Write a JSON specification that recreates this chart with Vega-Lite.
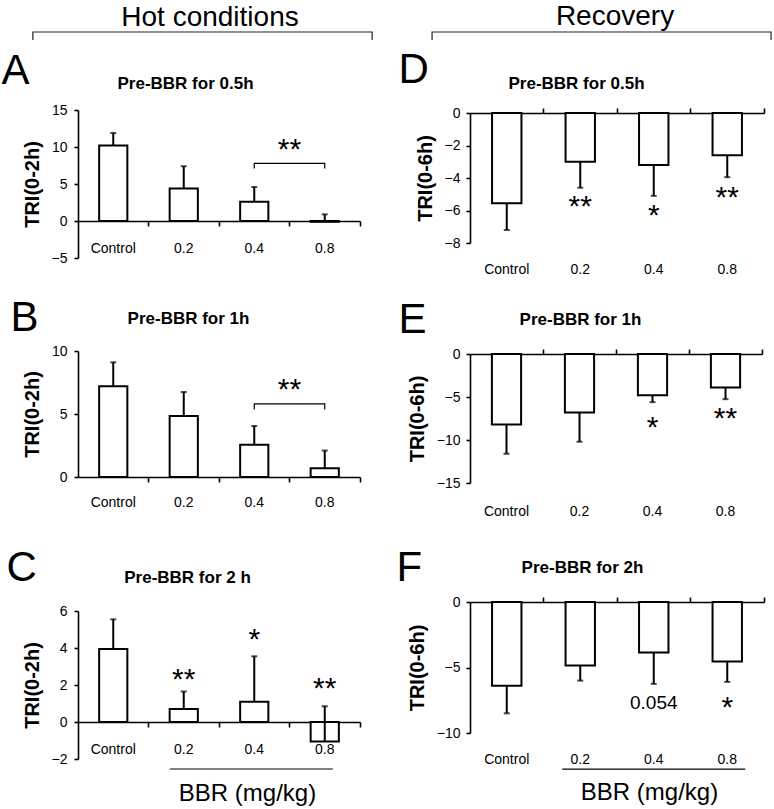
{
  "$schema": "https://vega.github.io/schema/vega-lite/v6.json",
  "padding": {"left": 1, "top": 2, "right": 4, "bottom": 4},
  "autosize": {"type": "pad"},
  "spacing": 21,
  "bounds": "full",
  "config": {
    "view": {"stroke": null},
    "font": "Liberation Sans",
    "axis": {"domainColor": "black", "tickColor": "black", "labelColor": "black", "titleColor": "black", "grid": false, "labelFontSize": 14, "domainWidth": 1.6, "tickWidth": 1.6, "labelFont": "Liberation Sans", "titleFont": "Liberation Sans"},
    "title": {"font": "Liberation Sans", "color": "black"}
  },
  "hconcat": [
    {
      "spacing": 0,
      "bounds": "flush",
      "vconcat": [
        {
          "width": 282, "height": 8,
          "title": {"text": "Hot conditions", "fontSize": 28, "fontWeight": "normal", "anchor": "middle", "dx": -9, "offset": -24, "baseline": "alphabetic"},
          "data": {"values": [{"x": -0.16, "y": 0, "o": 0}, {"x": -0.16, "y": 1, "o": 1}, {"x": 1.043, "y": 1, "o": 2}, {"x": 1.043, "y": 0, "o": 3}]},
          "mark": {"type": "line", "color": "#222", "strokeWidth": 1.2},
          "encoding": {
            "x": {"field": "x", "type": "quantitative", "scale": {"domain": [0, 1], "nice": false, "zero": false}, "axis": null},
            "y": {"field": "y", "type": "quantitative", "scale": {"domain": [0, 1], "nice": false}, "axis": null},
            "order": {"field": "o", "type": "quantitative"}
          }
        },
        {"width": 282, "height": 70, "data": {"values": []}, "mark": "point", "encoding": {}},
        {
          "width": 282, "height": 148,
          "data": {"values": [
            {"cat": "Control", "mean": 10.2, "err": 11.9},
            {"cat": "0.2", "mean": 4.4, "err": 7.4},
            {"cat": "0.4", "mean": 2.6, "err": 4.6},
            {"cat": "0.8", "mean": -0.1, "err": 0.9}
          ]},
          "encoding": {
            "y": {"field": "mean", "type": "quantitative", "scale": {"domain": [-5, 15], "nice": false, "zero": false},
                  "axis": {"values": [-5, 0, 5, 10, 15], "title": "TRI(0-2h)", "titleFontSize": 20, "titleFontWeight": "bold", "tickSize": 4, "labelPadding": 7, "titlePadding": 9}}
          },
          "layer": [
            {
              "mark": {"type": "bar", "fill": "white", "stroke": "black", "strokeWidth": 2, "width": {"band": 0.4}},
              "encoding": {
                "x": {"field": "cat", "type": "nominal", "sort": ["Control", "0.2", "0.4", "0.8"], "scale": {"paddingInner": 0, "paddingOuter": 0},
                      "axis": {"orient": "bottom", "offset": -37, "ticks": false, "domain": true, "labelAngle": 0, "labelPadding": 20, "title": null}}
              }
            },
            {
              "mark": {"type": "rule", "strokeWidth": 2, "color": "black"},
              "encoding": {
                "x": {"field": "cat", "type": "nominal", "sort": ["Control", "0.2", "0.4", "0.8"],
                      "axis": {"orient": "bottom", "offset": -37, "bandPosition": 1, "ticks": true, "tickSize": 5, "labels": false, "domain": false, "title": null}},
                "y2": {"field": "err"}
              }
            },
            {
              "mark": {"type": "tick", "orient": "horizontal", "size": 6, "thickness": 2, "color": "black"},
              "encoding": {
                "x": {"field": "cat", "type": "nominal", "sort": ["Control", "0.2", "0.4", "0.8"],
                      "axis": {"orient": "top", "domain": false, "ticks": false, "labels": false, "title": "Pre-BBR for 0.5h", "titleX": 107, "titleY": -22, "titleAlign": "center", "titleBaseline": "alphabetic", "titleAngle": 0, "titleFontSize": 17, "titleFontWeight": "bold"}},
                "y": {"field": "err", "type": "quantitative"}
              }
            },
            {
              "data": {"values": [{"cat": "0.8", "label": "**", "pos": 10.3}]},
              "mark": {"type": "text", "fontSize": 30, "baseline": "middle", "dy": 5, "align": "center", "color": "black"},
              "encoding": {
                "x": {"field": "cat", "type": "nominal", "sort": ["Control", "0.2", "0.4", "0.8"], "bandPosition": 0,
                      "axis": {"orient": "top", "domain": false, "ticks": false, "labels": false, "title": "A", "titleX": -77, "titleY": -27, "titleAlign": "left", "titleBaseline": "alphabetic", "titleAngle": 0, "titleFontSize": 42, "titleFontWeight": "normal"}},
                "y": {"field": "pos", "type": "quantitative"},
                "text": {"field": "label"}
              }
            },
            {
              "data": {"values": [{"cat": "0.4", "v": 7.1, "o": 0}, {"cat": "0.4", "v": 7.8, "o": 1}, {"cat": "0.8", "v": 7.8, "o": 2}, {"cat": "0.8", "v": 7.1, "o": 3}]},
              "mark": {"type": "line", "color": "black", "strokeWidth": 1.2},
              "encoding": {
                "x": {"field": "cat", "type": "nominal", "sort": ["Control", "0.2", "0.4", "0.8"], "axis": null},
                "y": {"field": "v", "type": "quantitative"},
                "order": {"field": "o", "type": "quantitative"}
              }
            }
          ],
          "resolve": {"axis": {"x": "independent"}}
        },
        {"width": 282, "height": 93, "data": {"values": []}, "mark": "point", "encoding": {}},
        {
          "width": 282, "height": 126,
          "data": {"values": [
            {"cat": "Control", "mean": 7.2, "err": 9.1},
            {"cat": "0.2", "mean": 4.85, "err": 6.75},
            {"cat": "0.4", "mean": 2.55, "err": 4.05},
            {"cat": "0.8", "mean": 0.7, "err": 2.1}
          ]},
          "encoding": {
            "y": {"field": "mean", "type": "quantitative", "scale": {"domain": [0, 10], "nice": false, "zero": false},
                  "axis": {"values": [0, 5, 10], "title": "TRI(0-2h)", "titleFontSize": 20, "titleFontWeight": "bold", "tickSize": 4, "labelPadding": 7, "titlePadding": 9}}
          },
          "layer": [
            {
              "mark": {"type": "bar", "fill": "white", "stroke": "black", "strokeWidth": 2, "width": {"band": 0.4}},
              "encoding": {
                "x": {"field": "cat", "type": "nominal", "sort": ["Control", "0.2", "0.4", "0.8"], "scale": {"paddingInner": 0, "paddingOuter": 0},
                      "axis": {"orient": "bottom", "offset": 0, "ticks": false, "domain": true, "labelAngle": 0, "labelPadding": 18, "title": null}}
              }
            },
            {
              "mark": {"type": "rule", "strokeWidth": 2, "color": "black"},
              "encoding": {
                "x": {"field": "cat", "type": "nominal", "sort": ["Control", "0.2", "0.4", "0.8"],
                      "axis": {"orient": "bottom", "offset": 0, "bandPosition": 1, "ticks": true, "tickSize": 5, "labels": false, "domain": false, "title": null}},
                "y2": {"field": "err"}
              }
            },
            {
              "mark": {"type": "tick", "orient": "horizontal", "size": 6, "thickness": 2, "color": "black"},
              "encoding": {
                "x": {"field": "cat", "type": "nominal", "sort": ["Control", "0.2", "0.4", "0.8"],
                      "axis": {"orient": "top", "domain": false, "ticks": false, "labels": false, "title": "Pre-BBR for 1h", "titleX": 110, "titleY": -28, "titleAlign": "center", "titleBaseline": "alphabetic", "titleAngle": 0, "titleFontSize": 17, "titleFontWeight": "bold"}},
                "y": {"field": "err", "type": "quantitative"}
              }
            },
            {
              "data": {"values": [{"cat": "0.8", "label": "**", "pos": 7.3}]},
              "mark": {"type": "text", "fontSize": 30, "baseline": "middle", "dy": 5, "align": "center", "color": "black"},
              "encoding": {
                "x": {"field": "cat", "type": "nominal", "sort": ["Control", "0.2", "0.4", "0.8"], "bandPosition": 0,
                      "axis": {"orient": "top", "domain": false, "ticks": false, "labels": false, "title": "B", "titleX": -68, "titleY": -21, "titleAlign": "left", "titleBaseline": "alphabetic", "titleAngle": 0, "titleFontSize": 42, "titleFontWeight": "normal"}},
                "y": {"field": "pos", "type": "quantitative"},
                "text": {"field": "label"}
              }
            },
            {
              "data": {"values": [{"cat": "0.4", "v": 5.35, "o": 0}, {"cat": "0.4", "v": 5.8, "o": 1}, {"cat": "0.8", "v": 5.8, "o": 2}, {"cat": "0.8", "v": 5.35, "o": 3}]},
              "mark": {"type": "line", "color": "black", "strokeWidth": 1.2},
              "encoding": {
                "x": {"field": "cat", "type": "nominal", "sort": ["Control", "0.2", "0.4", "0.8"], "axis": null},
                "y": {"field": "v", "type": "quantitative"},
                "order": {"field": "o", "type": "quantitative"}
              }
            }
          ],
          "resolve": {"axis": {"x": "independent"}}
        },
        {"width": 282, "height": 134, "data": {"values": []}, "mark": "point", "encoding": {}},
        {
          "width": 282, "height": 148,
          "data": {"values": [
            {"cat": "Control", "mean": 3.95, "err": 5.55},
            {"cat": "0.2", "mean": 0.7, "err": 1.65},
            {"cat": "0.4", "mean": 1.1, "err": 3.55},
            {"cat": "0.8", "mean": -1.05, "err": 0.85}
          ]},
          "encoding": {
            "y": {"field": "mean", "type": "quantitative", "scale": {"domain": [-2, 6], "nice": false, "zero": false},
                  "axis": {"values": [-2, 0, 2, 4, 6], "title": "TRI(0-2h)", "titleFontSize": 20, "titleFontWeight": "bold", "tickSize": 4, "labelPadding": 7, "titlePadding": 9}}
          },
          "layer": [
            {
              "mark": {"type": "bar", "fill": "white", "stroke": "black", "strokeWidth": 2, "width": {"band": 0.4}},
              "encoding": {
                "x": {"field": "cat", "type": "nominal", "scale": {"domain": ["Control", "0.2", "0.4", "0.8"], "paddingInner": 0, "paddingOuter": 0},
                      "axis": {"orient": "bottom", "offset": -37, "ticks": false, "domain": true, "labelAngle": 0, "labelPadding": 20, "title": "BBR (mg/kg)", "titleX": 169, "titleY": 78, "titleAlign": "center", "titleBaseline": "alphabetic", "titleFontSize": 24, "titleFontWeight": "normal"}}
              }
            },
            {
              "mark": {"type": "rule", "strokeWidth": 2, "color": "black"},
              "encoding": {
                "x": {"field": "cat", "type": "nominal", "scale": {"domain": ["Control", "0.2", "0.4", "0.8"]},
                      "axis": {"orient": "bottom", "offset": -37, "bandPosition": 1, "ticks": true, "tickSize": 5, "labels": false, "domain": false, "title": null}},
                "y2": {"field": "err"}
              }
            },
            {
              "mark": {"type": "tick", "orient": "horizontal", "size": 6, "thickness": 2, "color": "black"},
              "encoding": {
                "x": {"field": "cat", "type": "nominal", "scale": {"domain": ["Control", "0.2", "0.4", "0.8"]},
                      "axis": {"orient": "top", "domain": false, "ticks": false, "labels": false, "title": "Pre-BBR for 2 h", "titleX": 109, "titleY": -29, "titleAlign": "center", "titleBaseline": "alphabetic", "titleAngle": 0, "titleFontSize": 17, "titleFontWeight": "bold"}},
                "y": {"field": "err", "type": "quantitative"}
              }
            },
            {
              "data": {"values": [{"cat": "0.2", "label": "**", "pos": 2.55}, {"cat": "0.4", "label": "*", "pos": 4.7}, {"cat": "0.8", "label": "**", "pos": 2.05}]},
              "mark": {"type": "text", "fontSize": 30, "baseline": "middle", "dy": 5, "align": "center", "color": "black"},
              "encoding": {
                "x": {"field": "cat", "type": "nominal", "scale": {"domain": ["Control", "0.2", "0.4", "0.8"]},
                      "axis": {"orient": "top", "domain": false, "ticks": false, "labels": false, "title": "C", "titleX": -72, "titleY": -31, "titleAlign": "left", "titleBaseline": "alphabetic", "titleAngle": 0, "titleFontSize": 42, "titleFontWeight": "normal"}},
                "y": {"field": "pos", "type": "quantitative"},
                "text": {"field": "label"}
              }
            },
            {
              "data": {"values": [{"cat": "0.2", "cat2": "0.8", "v": -2.54}]},
              "mark": {"type": "rule", "color": "black", "strokeWidth": 1.2, "xOffset": -14, "x2Offset": 8},
              "encoding": {
                "x": {"field": "cat", "type": "nominal", "scale": {"domain": ["Control", "0.2", "0.4", "0.8"]}, "axis": null},
                "x2": {"field": "cat2"},
                "y": {"field": "v", "type": "quantitative"}
              }
            }
          ],
          "resolve": {"axis": {"x": "independent"}}
        }
      ]
    },
    {
      "spacing": 0,
      "bounds": "flush",
      "vconcat": [
        {
          "width": 294, "height": 8,
          "title": {"text": "Recovery", "fontSize": 28, "fontWeight": "normal", "anchor": "middle", "dx": -2, "offset": -23, "baseline": "alphabetic"},
          "data": {"values": [{"x": -0.129, "y": 0, "o": 0}, {"x": -0.129, "y": 1, "o": 1}, {"x": 1.024, "y": 1, "o": 2}, {"x": 1.024, "y": 0, "o": 3}]},
          "mark": {"type": "line", "color": "#222", "strokeWidth": 1.2},
          "encoding": {
            "x": {"field": "x", "type": "quantitative", "scale": {"domain": [0, 1], "nice": false, "zero": false}, "axis": null},
            "y": {"field": "y", "type": "quantitative", "scale": {"domain": [0, 1], "nice": false}, "axis": null},
            "order": {"field": "o", "type": "quantitative"}
          }
        },
        {"width": 294, "height": 73, "data": {"values": []}, "mark": "point", "encoding": {}},
        {
          "width": 294, "height": 130,
          "data": {"values": [
            {"cat": "Control", "mean": -5.55, "err": -7.2},
            {"cat": "0.2", "mean": -3.0, "err": -4.6},
            {"cat": "0.4", "mean": -3.2, "err": -5.1},
            {"cat": "0.8", "mean": -2.6, "err": -3.95}
          ]},
          "encoding": {
            "y": {"field": "mean", "type": "quantitative", "scale": {"domain": [-8, 0], "nice": false, "zero": false},
                  "axis": {"values": [-8, -6, -4, -2, 0], "title": "TRI(0-6h)", "titleFontSize": 20, "titleFontWeight": "bold", "tickSize": 4, "labelPadding": 6, "titlePadding": 9}}
          },
          "layer": [
            {
              "mark": {"type": "bar", "fill": "white", "stroke": "black", "strokeWidth": 2, "width": {"band": 0.4}},
              "encoding": {
                "x": {"field": "cat", "type": "nominal", "sort": ["Control", "0.2", "0.4", "0.8"], "scale": {"paddingInner": 0, "paddingOuter": 0},
                      "axis": {"orient": "bottom", "offset": 0, "ticks": false, "domain": false, "labelAngle": 0, "labelPadding": 19, "title": null}}
              }
            },
            {
              "mark": {"type": "rule", "strokeWidth": 2, "color": "black"},
              "encoding": {
                "x": {"field": "cat", "type": "nominal", "sort": ["Control", "0.2", "0.4", "0.8"],
                      "axis": {"orient": "top", "offset": 0, "bandPosition": 1, "ticks": true, "tickSize": 5, "labels": false, "domain": true, "title": null}},
                "y2": {"field": "err"}
              }
            },
            {
              "mark": {"type": "tick", "orient": "horizontal", "size": 6, "thickness": 2, "color": "black"},
              "encoding": {
                "x": {"field": "cat", "type": "nominal", "sort": ["Control", "0.2", "0.4", "0.8"],
                      "axis": {"orient": "top", "domain": false, "ticks": false, "labels": false, "title": "Pre-BBR for 0.5h", "titleX": 106, "titleY": -25, "titleAlign": "center", "titleBaseline": "alphabetic", "titleAngle": 0, "titleFontSize": 17, "titleFontWeight": "bold"}},
                "y": {"field": "err", "type": "quantitative"}
              }
            },
            {
              "data": {"values": [{"cat": "0.2", "label": "**", "pos": -5.5}, {"cat": "0.4", "label": "*", "pos": -6.0}, {"cat": "0.8", "label": "**", "pos": -4.9}]},
              "mark": {"type": "text", "fontSize": 30, "baseline": "middle", "dy": 5, "align": "center", "color": "black"},
              "encoding": {
                "x": {"field": "cat", "type": "nominal", "sort": ["Control", "0.2", "0.4", "0.8"],
                      "axis": {"orient": "top", "domain": false, "ticks": false, "labels": false, "title": "D", "titleX": -72, "titleY": -31, "titleAlign": "left", "titleBaseline": "alphabetic", "titleAngle": 0, "titleFontSize": 42, "titleFontWeight": "normal"}},
                "y": {"field": "pos", "type": "quantitative"},
                "text": {"field": "label"}
              }
            }
          ],
          "resolve": {"axis": {"x": "independent"}}
        },
        {"width": 294, "height": 111, "data": {"values": []}, "mark": "point", "encoding": {}},
        {
          "width": 292, "height": 129,
          "data": {"values": [
            {"cat": "Control", "mean": -8.2, "err": -11.6},
            {"cat": "0.2", "mean": -6.8, "err": -10.2},
            {"cat": "0.4", "mean": -4.8, "err": -5.6},
            {"cat": "0.8", "mean": -3.9, "err": -5.25}
          ]},
          "encoding": {
            "y": {"field": "mean", "type": "quantitative", "scale": {"domain": [-15, 0], "nice": false, "zero": false},
                  "axis": {"values": [-15, -10, -5, 0], "title": "TRI(0-6h)", "titleFontSize": 20, "titleFontWeight": "bold", "tickSize": 4, "labelPadding": 6, "titlePadding": 9}}
          },
          "layer": [
            {
              "mark": {"type": "bar", "fill": "white", "stroke": "black", "strokeWidth": 2, "width": {"band": 0.4}},
              "encoding": {
                "x": {"field": "cat", "type": "nominal", "sort": ["Control", "0.2", "0.4", "0.8"], "scale": {"paddingInner": 0, "paddingOuter": 0},
                      "axis": {"orient": "bottom", "offset": 0, "ticks": false, "domain": false, "labelAngle": 0, "labelPadding": 21, "title": null}}
              }
            },
            {
              "mark": {"type": "rule", "strokeWidth": 2, "color": "black"},
              "encoding": {
                "x": {"field": "cat", "type": "nominal", "sort": ["Control", "0.2", "0.4", "0.8"],
                      "axis": {"orient": "top", "offset": 0, "bandPosition": 1, "ticks": true, "tickSize": 5, "labels": false, "domain": true, "title": null}},
                "y2": {"field": "err"}
              }
            },
            {
              "mark": {"type": "tick", "orient": "horizontal", "size": 6, "thickness": 2, "color": "black"},
              "encoding": {
                "x": {"field": "cat", "type": "nominal", "sort": ["Control", "0.2", "0.4", "0.8"],
                      "axis": {"orient": "top", "domain": false, "ticks": false, "labels": false, "title": "Pre-BBR for 1h", "titleX": 110, "titleY": -30, "titleAlign": "center", "titleBaseline": "alphabetic", "titleAngle": 0, "titleFontSize": 17, "titleFontWeight": "bold"}},
                "y": {"field": "err", "type": "quantitative"}
              }
            },
            {
              "data": {"values": [{"cat": "0.4", "label": "*", "pos": -8.0}, {"cat": "0.8", "label": "**", "pos": -7.0}]},
              "mark": {"type": "text", "fontSize": 30, "baseline": "middle", "dy": 5, "align": "center", "color": "black"},
              "encoding": {
                "x": {"field": "cat", "type": "nominal", "sort": ["Control", "0.2", "0.4", "0.8"],
                      "axis": {"orient": "top", "domain": false, "ticks": false, "labels": false, "title": "E", "titleX": -72, "titleY": -22, "titleAlign": "left", "titleBaseline": "alphabetic", "titleAngle": 0, "titleFontSize": 42, "titleFontWeight": "normal"}},
                "y": {"field": "pos", "type": "quantitative"},
                "text": {"field": "label"}
              }
            }
          ],
          "resolve": {"axis": {"x": "independent"}}
        },
        {"width": 294, "height": 119, "data": {"values": []}, "mark": "point", "encoding": {}},
        {
          "width": 294, "height": 131,
          "data": {"values": [
            {"cat": "Control", "mean": -6.4, "err": -8.5},
            {"cat": "0.2", "mean": -4.85, "err": -6.0},
            {"cat": "0.4", "mean": -3.85, "err": -6.25},
            {"cat": "0.8", "mean": -4.55, "err": -6.1}
          ]},
          "encoding": {
            "y": {"field": "mean", "type": "quantitative", "scale": {"domain": [-10, 0], "nice": false, "zero": false},
                  "axis": {"values": [-10, -5, 0], "title": "TRI(0-6h)", "titleFontSize": 20, "titleFontWeight": "bold", "tickSize": 4, "labelPadding": 6, "titlePadding": 9}}
          },
          "layer": [
            {
              "mark": {"type": "bar", "fill": "white", "stroke": "black", "strokeWidth": 2, "width": {"band": 0.4}},
              "encoding": {
                "x": {"field": "cat", "type": "nominal", "scale": {"domain": ["Control", "0.2", "0.4", "0.8"], "paddingInner": 0, "paddingOuter": 0},
                      "axis": {"orient": "bottom", "offset": 0, "ticks": false, "domain": false, "labelAngle": 0, "labelPadding": 19, "title": "BBR (mg/kg)", "titleX": 179, "titleY": 66, "titleAlign": "center", "titleBaseline": "alphabetic", "titleFontSize": 24, "titleFontWeight": "normal"}}
              }
            },
            {
              "mark": {"type": "rule", "strokeWidth": 2, "color": "black"},
              "encoding": {
                "x": {"field": "cat", "type": "nominal", "scale": {"domain": ["Control", "0.2", "0.4", "0.8"]},
                      "axis": {"orient": "top", "offset": 0, "bandPosition": 1, "ticks": true, "tickSize": 5, "labels": false, "domain": true, "title": null}},
                "y2": {"field": "err"}
              }
            },
            {
              "mark": {"type": "tick", "orient": "horizontal", "size": 6, "thickness": 2, "color": "black"},
              "encoding": {
                "x": {"field": "cat", "type": "nominal", "scale": {"domain": ["Control", "0.2", "0.4", "0.8"]},
                      "axis": {"orient": "top", "domain": false, "ticks": false, "labels": false, "title": "Pre-BBR for 2h", "titleX": 112, "titleY": -30, "titleAlign": "center", "titleBaseline": "alphabetic", "titleAngle": 0, "titleFontSize": 17, "titleFontWeight": "bold"}},
                "y": {"field": "err", "type": "quantitative"}
              }
            },
            {
              "data": {"values": [{"cat": "0.8", "label": "*", "pos": -7.7}]},
              "mark": {"type": "text", "fontSize": 30, "baseline": "middle", "dy": 5, "align": "center", "color": "black"},
              "encoding": {
                "x": {"field": "cat", "type": "nominal", "scale": {"domain": ["Control", "0.2", "0.4", "0.8"]},
                      "axis": {"orient": "top", "domain": false, "ticks": false, "labels": false, "title": "F", "titleX": -74, "titleY": -22, "titleAlign": "left", "titleBaseline": "alphabetic", "titleAngle": 0, "titleFontSize": 42, "titleFontWeight": "normal"}},
                "y": {"field": "pos", "type": "quantitative"},
                "text": {"field": "label"}
              }
            },
            {
              "data": {"values": [{"cat": "0.4", "label": "0.054", "pos": -7.7}]},
              "mark": {"type": "text", "fontSize": 19, "baseline": "middle", "align": "center", "color": "black"},
              "encoding": {
                "x": {"field": "cat", "type": "nominal", "scale": {"domain": ["Control", "0.2", "0.4", "0.8"]}, "axis": null},
                "y": {"field": "pos", "type": "quantitative"},
                "text": {"field": "label"}
              }
            },
            {
              "data": {"values": [{"cat": "0.2", "cat2": "0.8", "v": -12.75}]},
              "mark": {"type": "rule", "color": "black", "strokeWidth": 1.2, "xOffset": -18, "x2Offset": 18},
              "encoding": {
                "x": {"field": "cat", "type": "nominal", "scale": {"domain": ["Control", "0.2", "0.4", "0.8"]}, "axis": null},
                "x2": {"field": "cat2"},
                "y": {"field": "v", "type": "quantitative"}
              }
            }
          ],
          "resolve": {"axis": {"x": "independent"}}
        }
      ]
    }
  ]
}
